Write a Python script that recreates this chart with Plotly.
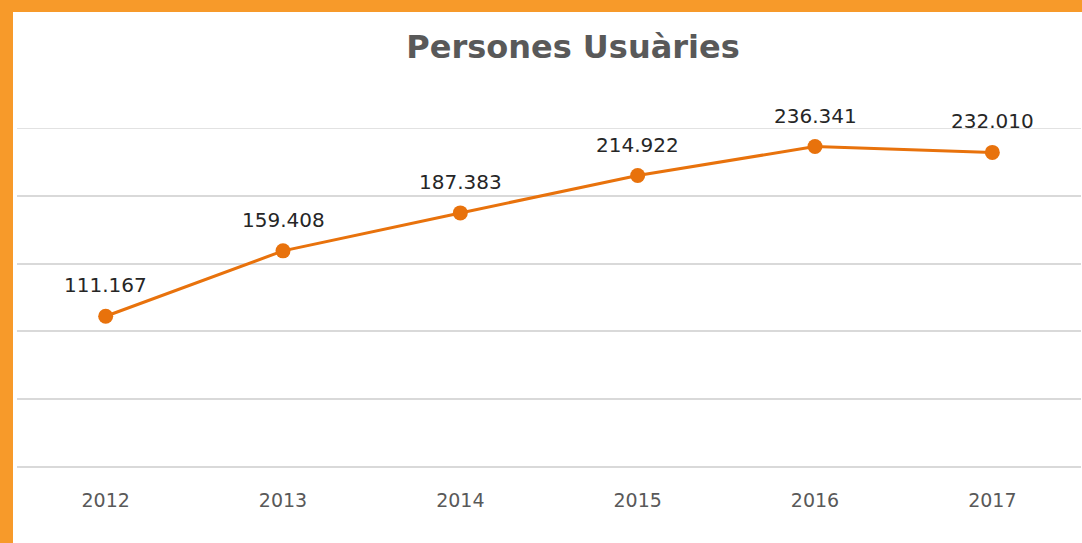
import plotly.graph_objects as go

years = ["2012", "2013", "2014", "2015", "2016", "2017"]
users = [111167, 159408, 187383, 214922, 236341, 232010]
title_text = "Persones Usuàries"

W, H = 1082, 543
ML, MR, MT, MB = 17, 1, 128, 76
pw, ph = W - ML - MR, H - MT - MB

fig = go.Figure()
fig.add_trace(go.Scatter(
    x=years, y=users, mode="lines+markers",
    line=dict(color="#E8720C", width=3),
    marker=dict(color="#E8720C", size=15),
    hoverinfo="skip",
))

for i, y in enumerate(users):
    fig.add_annotation(
        x=i, y=y, xref="x", yref="y", text=f"{y:,}".replace(",", "."), showarrow=False,
        yshift=31, font=dict(family="DejaVu Sans", size=20, color="#262626"),
    )

orange = "#F79A2A"
# left band
fig.add_shape(type="rect", xref="paper", yref="paper",
              x0=-ML / pw, x1=(13 - ML) / pw, y0=-MB / ph, y1=1 + MT / ph,
              fillcolor=orange, line_width=0, layer="above")
# top band
fig.add_shape(type="rect", xref="paper", yref="paper",
              x0=-ML / pw, x1=1 + MR / pw, y0=1 + (MT - 12) / ph, y1=1 + MT / ph,
              fillcolor=orange, line_width=0, layer="above")

fig.update_layout(
    width=W, height=H,
    margin=dict(l=ML, r=MR, t=MT, b=MB),
    paper_bgcolor="white", plot_bgcolor="white",
    showlegend=False,
    separators=",.",
    title=dict(text=f"<b>{title_text}</b>", x=573 / W, xref="container", xanchor="center",
               y=1 - 47 / H, yref="container", yanchor="middle",
               font=dict(family="DejaVu Sans", size=32, color="#595959")),
    xaxis=dict(type="category", range=[-0.5, 5.5], showgrid=False, showline=False,
               zeroline=False, ticks="", ticklabelstandoff=20,
               tickfont=dict(family="DejaVu Sans", size=19, color="#595959")),
    yaxis=dict(range=[0, 250000], dtick=50000, showgrid=True, gridcolor="#D9D9D9",
               gridwidth=1.5, zeroline=True, zerolinecolor="#D9D9D9", zerolinewidth=1.5,
               showticklabels=False, showline=False, ticks=""),
)
fig.add_shape(type="line", xref="paper", yref="y", x0=0, x1=1, y0=250000, y1=250000,
              line=dict(color="#D9D9D9", width=1.5), layer="below")

fig.write_html("out.html", config={"displayModeBar": False},
               post_script="document.body.style.margin='0px';")
